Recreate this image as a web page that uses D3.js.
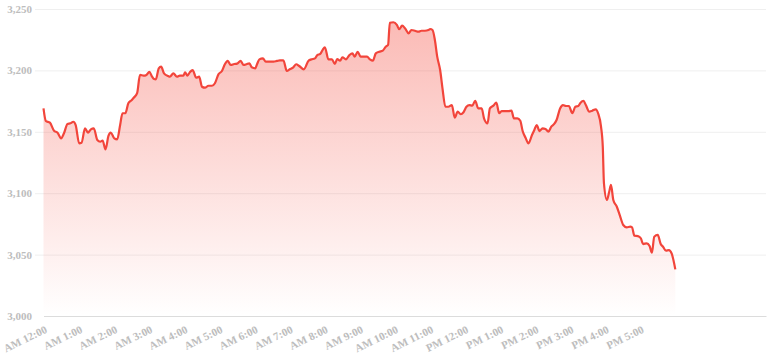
<!DOCTYPE html>
<html>
<head>
<meta charset="utf-8">
<script src="https://cdn.jsdelivr.net/npm/d3@7"></script>
<style>
  body { margin: 0; background: #fff; }
  svg { display: block; }
  .axis text { font-family: "Liberation Serif", serif; font-size: 11px; font-weight: bold; fill: #bdbdbd; }
</style>
</head>
<body>
<svg id="chart" width="768" height="363"></svg>
<script>
// minutes after midnight
const minutes = [
  0, 4, 11, 18, 24, 30, 35, 41, 46, 51, 55, 61, 65, 71, 76, 81, 86, 92, 97, 101, 106, 111, 115, 121, 126, 131, 135, 140, 145, 151, 155, 160, 165, 171, 176, 181, 185, 189, 192, 197, 201, 206, 213,
  216, 222, 228, 233, 239, 242, 246, 250, 255, 261, 266, 271, 276, 282, 288, 293, 299, 305, 310, 315, 320, 326, 331, 337, 342, 347, 352, 356, 362, 365, 369, 375, 380, 386, 393, 399, 404, 410, 416, 421, 427, 432, 437,
  445, 453, 458, 464, 468, 473, 477, 481, 487, 493, 498, 502, 507, 511, 517, 523, 528, 532, 537, 542, 548, 553, 558, 563, 568, 574, 580, 585, 589, 592, 598, 604, 608, 613, 618, 624, 629, 635, 641, 646, 652, 658,
  661, 665, 669, 673, 678, 682, 687, 692, 698, 703, 708, 713, 718, 723, 728, 733, 738, 743, 749, 753, 759, 763, 769, 774, 779, 783, 789, 795, 800, 804, 810, 815, 819, 824, 829, 835, 839, 843, 848, 853, 858, 863, 868, 873, 877,
  883, 888, 893, 898, 904, 909, 914, 918, 923, 927, 933, 938, 944, 948, 953, 956, 958, 963, 967, 970, 974, 980, 985, 991, 997, 1003, 1006, 1010, 1016, 1021, 1025, 1031, 1036, 1040, 1044, 1050, 1055, 1059, 1064, 1069, 1074, 1080
];
const prices = [
  3169, 3158.8, 3157.4, 3150.9, 3149.3, 3144.7, 3148.8, 3156.4, 3156.9, 3158.2, 3155.5, 3140.6, 3141.1, 3152.8, 3149.3, 3152, 3152.8, 3143.3, 3141.9, 3142.8, 3135.7, 3146.6, 3149.3, 3144.7, 3143.9, 3155.5, 3165.1, 3165.1, 3173.2, 3175.9, 3178.1, 3181.4, 3196.3, 3195.7, 3196.3, 3198.9, 3195.4, 3193, 3192.7, 3201.7, 3203, 3197.6, 3195.4,
  3194.9, 3197.6, 3194.9, 3195.7, 3195.7, 3198.4, 3195.7, 3198.4, 3200.3, 3194, 3194.9, 3186.7, 3185.9, 3187.5, 3187.5, 3189.5, 3196.8, 3199.5, 3205, 3207.7, 3204.4, 3205.2, 3205.5, 3207.7, 3204.4, 3205, 3205.8, 3202.5, 3201.7, 3205, 3209, 3209.8, 3207.1, 3207.1, 3207.1, 3207.7, 3208.2, 3208.2, 3199.5, 3200.9, 3202.5, 3205, 3203.6,
  3200.9, 3207.9, 3209, 3209.8, 3212.5, 3213.4, 3216.6, 3218.8, 3209, 3209, 3205.2, 3209.3, 3207.9, 3210.7, 3209, 3212.5, 3213.9, 3211.2, 3215.2, 3211.2, 3211.2, 3211.2, 3209, 3207.9, 3213.9, 3215.2, 3216.1, 3219.3, 3220.7, 3238.8, 3239.2, 3237, 3233.5, 3236.4, 3234.3, 3230.2, 3232.9, 3232.3, 3231.5, 3232.3, 3232.3, 3232.9,
  3233.7, 3232.9, 3224.8, 3211.2, 3200.3, 3185.4, 3170.4, 3170.4, 3171.8, 3161.5, 3166.4, 3164.3, 3165.9, 3170.4, 3171.8, 3171.3, 3175.3, 3169.1, 3169.1, 3161, 3156.9, 3169.1, 3171.3, 3173.7, 3165.1, 3166.9, 3166.9, 3166.9, 3167.2, 3161, 3161, 3159, 3150.6, 3145.2, 3140.6, 3147.4, 3151.5, 3155.5, 3150.6, 3152.8, 3152.3, 3150.1, 3154.2, 3156.4, 3159.6,
  3169, 3171.8, 3171, 3171, 3165.1, 3170.4, 3171, 3173.7, 3175.3, 3171.8, 3166.4, 3167.2, 3168.3, 3165.1, 3154.2, 3137.9, 3108.1, 3094.5, 3101.2, 3106.7, 3094.5, 3089, 3082.2, 3074.1, 3072.2, 3072.7, 3072.2, 3065.4, 3065.1, 3063.3, 3058.6, 3059.2, 3057, 3051.5, 3064.6, 3066, 3058.6, 3056.4, 3053.2, 3053.7, 3050.5, 3038
];
const yTicks = [3000, 3050, 3100, 3150, 3200, 3250];
const xTickLabels = [
  "AM 12:00", "AM 1:00", "AM 2:00", "AM 3:00", "AM 4:00", "AM 5:00", "AM 6:00", "AM 7:00", "AM 8:00",
  "AM 9:00", "AM 10:00", "AM 11:00", "PM 12:00", "PM 1:00", "PM 2:00", "PM 3:00", "PM 4:00", "PM 5:00"
];

const day = new Date(2024, 0, 1);
const toDate = m => new Date(day.getTime() + m * 60000);
const data = minutes.map((m, i) => ({ t: toDate(m), v: prices[i] }));

const svg = d3.select("#chart");
const plotLeft = 43.5, plotRight = 766, plotTop = 9, plotBottom = 316;

const x = d3.scaleTime().domain([toDate(0), toDate(1235)]).range([plotLeft, plotRight]);
const y = d3.scaleLinear().domain([3000, 3250]).range([plotBottom, plotTop]);

// gradient under the line
const grad = svg.append("defs").append("linearGradient")
    .attr("id", "fillGrad")
    .attr("gradientUnits", "userSpaceOnUse")
    .attr("x1", 0).attr("y1", y(3250))
    .attr("x2", 0).attr("y2", y(3000));
grad.append("stop").attr("offset", 0).attr("stop-color", "#f44336").attr("stop-opacity", 0.38);
grad.append("stop").attr("offset", 1).attr("stop-color", "#f44336").attr("stop-opacity", 0);

// y grid + labels
const yAxis = svg.append("g")
    .attr("class", "axis")
    .attr("transform", "translate(35,0)")
    .call(d3.axisLeft(y).tickValues(yTicks).tickFormat(d3.format(",")).tickSize(-(plotRight - 35)).tickPadding(3));
yAxis.select(".domain").remove();
yAxis.selectAll(".tick line").attr("stroke", "#efefef");
yAxis.selectAll(".tick").filter(d => d === 3000).select("line").remove();

// x axis
const xAxis = svg.append("g")
    .attr("class", "axis")
    .attr("transform", "translate(0," + plotBottom + ")")
    .call(d3.axisBottom(x)
        .tickValues(xTickLabels.map((_, i) => toDate(i * 60)))
        .tickSize(0).tickSizeOuter(0)
        .tickFormat((d, i) => xTickLabels[i]));
xAxis.select(".domain").attr("stroke", "#dcdcdc");
xAxis.selectAll("text")
    .attr("x", 0).attr("y", 0).attr("dy", 0)
    .attr("text-anchor", "end")
    .attr("transform", "translate(4,16) rotate(-26)");

const area = d3.area()
    .x(d => x(d.t))
    .y0(plotBottom)
    .y1(d => y(d.v))
    .curve(d3.curveMonotoneX);

const line = d3.line()
    .x(d => x(d.t))
    .y(d => y(d.v))
    .curve(d3.curveMonotoneX);

svg.append("path")
    .datum(data)
    .attr("fill", "url(#fillGrad)")
    .attr("d", area);

svg.append("path")
    .datum(data)
    .attr("fill", "none")
    .attr("stroke", "#f2453b")
    .attr("stroke-width", 2.2)
    .attr("stroke-linejoin", "round")
    .attr("d", line);
</script>
</body>
</html>
